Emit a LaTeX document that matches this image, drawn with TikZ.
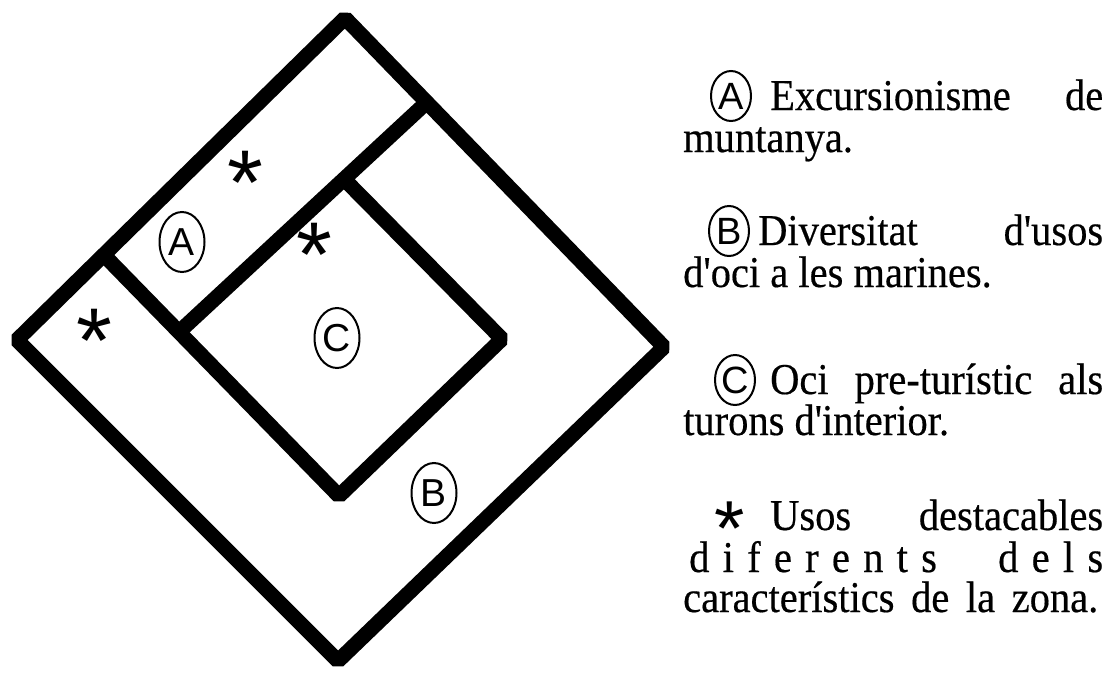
\documentclass[tikz,border=0pt]{standalone}
\usepackage{fontspec}
\setmainfont{Liberation Serif}[FakeStretch=0.92, FakeBold=0.4, Ligatures=TeXOff]
\newfontfamily\lsans{Liberation Sans}
\usetikzlibrary{shapes.geometric}
\newcommand{\starglyph}{\raisebox{-0.57em}[0.15em][0.15em]{*}}
\begin{document}
\begin{tikzpicture}[x=1pt,y=-1pt,
  wall/.style={line width=15pt, line join=bevel},
  zone/.style={ellipse, draw, line width=2pt, minimum width=45pt, minimum height=60pt, inner sep=0pt, font=\lsans\fontsize{39}{39}\selectfont},
  keyzone/.style={zone, minimum width=40pt, minimum height=50pt, font=\lsans\fontsize{38}{38}\selectfont},
  starmark/.style={inner sep=0pt, font=\lsans\fontsize{92}{92}\selectfont},
  keystar/.style={inner sep=0pt, font=\lsans\fontsize{78}{78}\selectfont},
  legend/.style={anchor=base west, inner sep=0pt, font=\fontsize{44}{44}\selectfont}
]
\useasboundingbox (0,0) rectangle (1108,683);
% outer diamond
\coordinate (T) at (345,18);
\coordinate (R) at (664,347);
\coordinate (Bt) at (338,661);
\coordinate (L) at (17,340);
% inner square C
\coordinate (Ct) at (344,179);
\coordinate (Cr) at (502,339);
\coordinate (Cb) at (339,496);
\coordinate (Cl) at (179,332);
\coordinate (P1) at (intersection of Cl--Ct and T--R);
\coordinate (P2) at (intersection of Cb--Cl and L--T);
\draw[wall] (T)--(R)--(Bt)--(L)--cycle;
\draw[wall] (P1)--(Cl);
\draw[wall] (P2)--(Cb)--(Cr)--(Ct);
% zone labels
\node[zone] (za) at (182,242) {A};
\node[zone] (zc) at (337,338) {C};
\node[zone] (zb) at (434,493) {B};
% stars
\node[starmark] (s1) at (245,162) {\starglyph};
\node[starmark] (s2) at (314,234) {\starglyph};
\node[starmark] (s3) at (94,320) {\starglyph};
% legend
\node[keyzone] (ka) at (731,96) {A};
\node[legend] (l1) at (770,110) {\makebox[333pt][s]{Excursionisme de}};
\node[legend] (l2) at (683,152) {muntanya.};
\node[keyzone] (kb) at (729,231) {B};
\node[legend] (l3) at (758,245) {\makebox[345pt][s]{Diversitat d'usos}};
\node[legend] (l4) at (683,287) {d'oci a les marines.};
\node[keyzone] (kc) at (735,380) {C};
\node[legend] (l5) at (770,394) {\makebox[333pt][s]{Oci pre-turístic als}};
\node[legend] (l6) at (683,435) {turons d'interior.};
\node[keystar] (ks) at (730,511) {\starglyph};
\node[legend] (l7) at (770,530) {\makebox[333pt][s]{Usos destacables}};
\node[legend] (l8) at (689,572) {\makebox[414pt][s]{d i f e r e n t s\hspace{48pt} d e l s}};
\node[legend] (l9) at (683,612) {\makebox[415pt][s]{característics de la zona.}};
\end{tikzpicture}
\end{document}
